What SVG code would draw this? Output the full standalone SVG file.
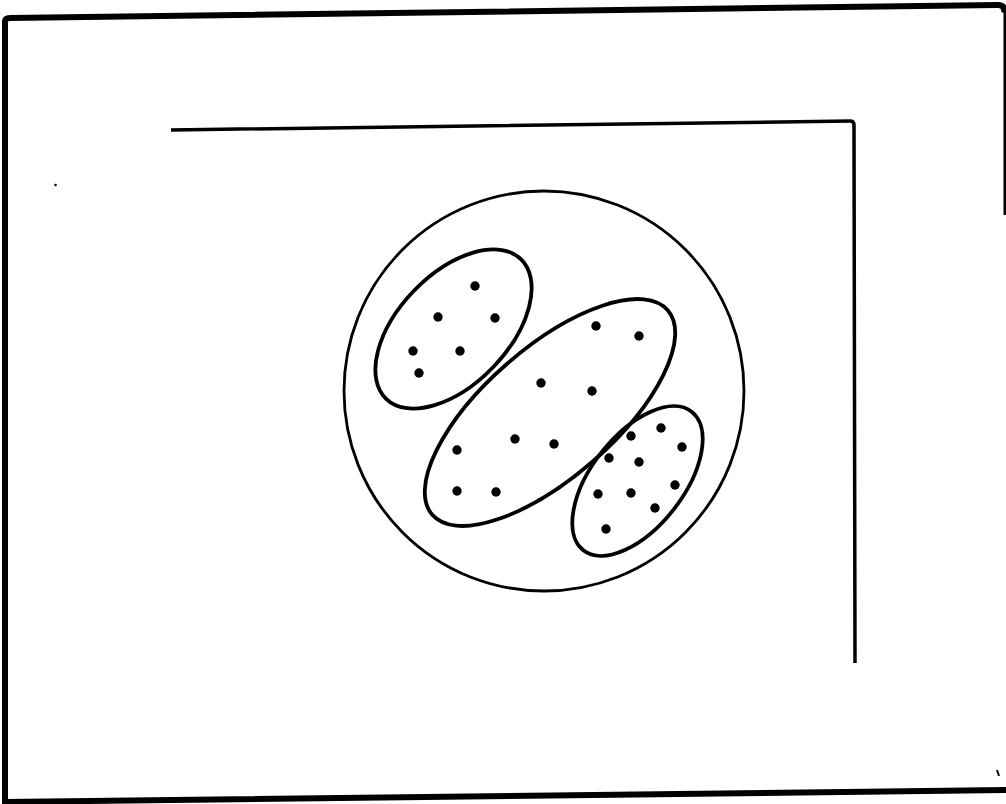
<svg xmlns="http://www.w3.org/2000/svg" width="1006" height="804" viewBox="0 0 1006 804">
<style>
.frame{fill:none;stroke:#000;stroke-width:6;stroke-linecap:round;stroke-linejoin:round}
.inner{fill:none;stroke:#000;stroke-width:3.5;stroke-linejoin:round}
.circ{fill:none;stroke:#000;stroke-width:2.8}
.ell{fill:none;stroke:#000;stroke-width:3.8}
.dot{fill:#000}
</style>
<rect width="1006" height="804" fill="#fff"/>
<g id="frame">
<path class="frame" d="M5,804 L5,22 Q5,18 10,18 L998,5 Q1004,5 1004,10"/>
<path d="M1005,8 L1005,215" fill="none" stroke="#000" stroke-width="3"/>
<path class="frame" d="M5,802 L1006,790"/>
</g>
<g id="inner-corner">
<path class="inner" d="M171,130 L850,121 Q854,121 854,125 L855,663"/>
</g>
<g id="circle">
<circle class="circ" cx="544" cy="391" r="200"/>
</g>
<g id="ellipse-upper-left">
<ellipse class="ell" cx="453.5" cy="329" rx="97" ry="55" transform="rotate(-46 453.5 329)"/>
<circle class="dot" cx="475" cy="286" r="4.7"/>
<circle class="dot" cx="438" cy="317" r="4.7"/>
<circle class="dot" cx="495" cy="318" r="4.7"/>
<circle class="dot" cx="413" cy="351" r="4.7"/>
<circle class="dot" cx="460" cy="351" r="4.7"/>
<circle class="dot" cx="419" cy="373" r="4.7"/>
</g>
<g id="ellipse-middle">
<ellipse class="ell" cx="550" cy="412.5" rx="156" ry="65" transform="rotate(-41 550 412.5)"/>
<circle class="dot" cx="596" cy="326" r="4.7"/>
<circle class="dot" cx="639" cy="336" r="4.7"/>
<circle class="dot" cx="541" cy="383" r="4.7"/>
<circle class="dot" cx="592" cy="391" r="4.7"/>
<circle class="dot" cx="515" cy="439" r="4.7"/>
<circle class="dot" cx="554" cy="444" r="4.7"/>
<circle class="dot" cx="457" cy="450" r="4.7"/>
<circle class="dot" cx="457" cy="491" r="4.7"/>
<circle class="dot" cx="496" cy="492" r="4.7"/>
</g>
<g id="ellipse-lower-right">
<ellipse class="ell" cx="637.5" cy="481" rx="88" ry="46" transform="rotate(-52 637.5 481)"/>
<circle class="dot" cx="661" cy="428" r="4.7"/>
<circle class="dot" cx="631" cy="436" r="4.7"/>
<circle class="dot" cx="682" cy="447" r="4.7"/>
<circle class="dot" cx="609" cy="458" r="4.7"/>
<circle class="dot" cx="639" cy="462" r="4.7"/>
<circle class="dot" cx="675" cy="485" r="4.7"/>
<circle class="dot" cx="598" cy="494" r="4.7"/>
<circle class="dot" cx="631" cy="493" r="4.7"/>
<circle class="dot" cx="655" cy="508" r="4.7"/>
<circle class="dot" cx="606" cy="529" r="4.7"/>
</g>
<g id="specks">
<circle class="dot" cx="55.5" cy="185" r="1.3"/>
<path d="M997,770 L999,776" stroke="#000" stroke-width="2"/>
</g>
</svg>
